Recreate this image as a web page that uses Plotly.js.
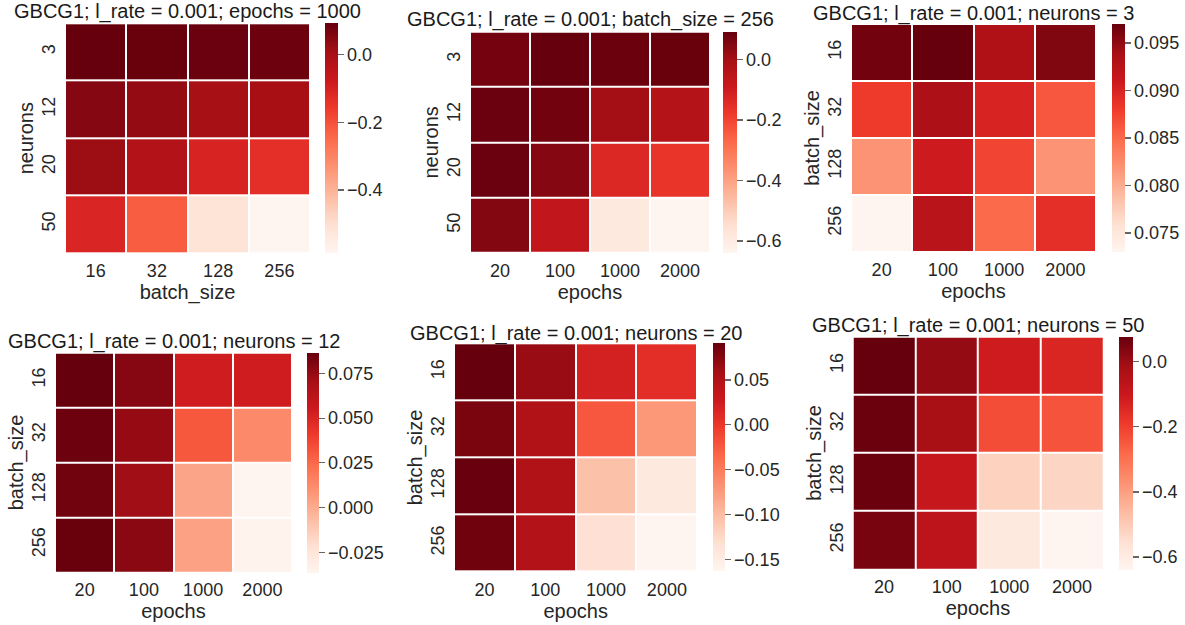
<!DOCTYPE html>
<html>
<head>
<meta charset="utf-8">
<script src="https://cdn.plot.ly/plotly-3.0.1.min.js"></script>
<style>html,body{margin:0;padding:0;background:#fff;}#chart{width:1185px;height:625px;}</style>
</head>
<body>
<div id="chart"></div>
<script>
// ---- data ----
const neurons = ["3", "12", "20", "50"];
const batchSizes = ["16", "32", "128", "256"];
const epochs = ["20", "100", "1000", "2000"];

const titles = [
  "GBCG1; l_rate = 0.001; epochs = 1000",
  "GBCG1; l_rate = 0.001; batch_size = 256",
  "GBCG1; l_rate = 0.001; neurons = 3",
  "GBCG1; l_rate = 0.001; neurons = 12",
  "GBCG1; l_rate = 0.001; neurons = 20",
  "GBCG1; l_rate = 0.001; neurons = 50"
];

// epochs = 1000 : rows neurons, cols batch_size
const zEpochs1000 = [
  [0.0932, 0.0900, 0.0874, 0.0850],
  [0.054, 0.031, 0.003, 0.004],
  [0.020, -0.023, -0.105, -0.133],
  [-0.109, -0.224, -0.517, -0.587]
];
// batch_size = 256 : rows neurons, cols epochs
const zBatch256 = [
  [0.073, 0.0925, 0.085, 0.089],
  [0.086, 0.078, 0.004, -0.035],
  [0.086, 0.048, -0.133, -0.163],
  [0.052, -0.066, -0.587, -0.639]
];
// neurons = 3 : rows batch_size, cols epochs
const zNeurons3 = [
  [0.0965, 0.0970, 0.0932, 0.0958],
  [0.0881, 0.0934, 0.0900, 0.0862],
  [0.0819, 0.0908, 0.0874, 0.0819],
  [0.0730, 0.0925, 0.0850, 0.0890]
];
// neurons = 12
const zNeurons12 = [
  [0.0866, 0.079, 0.054, 0.054],
  [0.085, 0.075, 0.031, 0.013],
  [0.084, 0.072, 0.003, -0.0364],
  [0.086, 0.078, 0.004, -0.035]
];
// neurons = 20
const zNeurons20 = [
  [0.0908, 0.065, 0.020, 0.007],
  [0.081, 0.050, -0.023, -0.072],
  [0.090, 0.050, -0.105, -0.145],
  [0.086, 0.048, -0.133, -0.163]
];
// neurons = 50
const zNeurons50 = [
  [0.077, 0.012, -0.109, -0.138],
  [0.070, -0.023, -0.224, -0.238],
  [0.070, -0.088, -0.517, -0.524],
  [0.052, -0.066, -0.587, -0.639]
];

const cbTicks1 = [0.0, -0.2, -0.4];
const cbTicks2 = [0.0, -0.2, -0.4, -0.6];
const cbTicks3 = [0.075, 0.080, 0.085, 0.090, 0.095];
const cbTicks4 = [-0.025, 0.000, 0.025, 0.050, 0.075];
const cbTicks5 = [-0.15, -0.10, -0.05, 0.00, 0.05];
const cbTicks6 = [-0.6, -0.4, -0.2, 0.0];

// ---- assembly ----
const W = 1185, H = 625;
const FONT = "'Liberation Sans', Arial, sans-serif";
const TXT = "#262626";
const reds = [
  [0.0, "#fff5f0"], [0.125, "#fee0d2"], [0.25, "#fcbba1"], [0.375, "#fc9272"],
  [0.5, "#fb6a4a"], [0.625, "#ef3b2c"], [0.75, "#cb181d"], [0.875, "#a50f15"], [1.0, "#67000d"]
];

const panels = [
  {z: zEpochs1000, x: batchSizes, y: neurons, xt: "batch_size", yt: "neurons", ticks: cbTicks1, fmt: ".1f",
   box: [65, 310, 23.3, 253], cb: [325, 338], tgap: 11.6},
  {z: zBatch256, x: epochs, y: neurons, xt: "epochs", yt: "neurons", ticks: cbTicks2, fmt: ".1f",
   box: [470, 710, 31.7, 253], cb: [723, 737], tgap: 12.5},
  {z: zNeurons3, x: epochs, y: batchSizes, xt: "epochs", yt: "batch_size", ticks: cbTicks3, fmt: ".3f",
   box: [851, 1096, 24, 252], cb: [1112, 1125], tgap: 10},
  {z: zNeurons12, x: epochs, y: batchSizes, xt: "epochs", yt: "batch_size", ticks: cbTicks4, fmt: ".3f",
   box: [55, 292, 352.7, 572.3], cb: [307, 319], tgap: 11},
  {z: zNeurons20, x: epochs, y: batchSizes, xt: "epochs", yt: "batch_size", ticks: cbTicks5, fmt: ".2f",
   box: [454, 697.3, 343.3, 571.7], cb: [713.3, 725], tgap: 10},
  {z: zNeurons50, x: epochs, y: batchSizes, xt: "epochs", yt: "batch_size", ticks: cbTicks6, fmt: ".1f",
   box: [852.7, 1103.3, 336.7, 569.3], cb: [1119.3, 1133.3], tgap: 11.7}
];

const data = [];
const layout = {
  width: W, height: H,
  margin: {l: 0, r: 0, t: 0, b: 0},
  paper_bgcolor: "#fff", plot_bgcolor: "#fff",
  font: {family: FONT, color: TXT, size: 18},
  showlegend: false,
  annotations: []
};

panels.forEach((p, i) => {
  const n = i === 0 ? "" : String(i + 1);
  const [x0, x1, y0, y1] = p.box;
  data.push({
    type: "heatmap",
    z: p.z, x: p.x, y: p.y,
    xaxis: "x" + n, yaxis: "y" + n,
    colorscale: reds,
    xgap: 2, ygap: 2,
    colorbar: {
      x: p.cb[0] / W, xanchor: "left", xpad: 0,
      y: 1 - y0 / H, yanchor: "top", ypad: 0,
      len: (y1 - y0) / H, lenmode: "fraction",
      thickness: p.cb[1] - p.cb[0],
      outlinewidth: 0,
      tickmode: "array", tickvals: p.ticks, tickformat: p.fmt,
      ticks: "outside", ticklen: 6, tickwidth: 1.2, tickcolor: "#666",
      tickfont: {family: FONT, size: 18, color: TXT}
    }
  });
  layout["xaxis" + n] = {
    domain: [x0 / W, x1 / W], anchor: "y" + n, type: "category",
    showgrid: false, zeroline: false, showline: false, ticks: "",
    ticklabelstandoff: 5,
    tickfont: {family: FONT, size: 18, color: TXT},
    title: {text: p.xt, font: {family: FONT, size: 20, color: TXT}, standoff: 1}
  };
  layout["yaxis" + n] = {
    domain: [1 - y1 / H, 1 - y0 / H], anchor: "x" + n, type: "category",
    autorange: "reversed",
    showgrid: false, zeroline: false, showline: false, ticks: "",
    tickangle: -90, ticklabelstandoff: 5,
    tickfont: {family: FONT, size: 18, color: TXT},
    title: {text: p.yt, font: {family: FONT, size: 20, color: TXT}, standoff: 0}
  };
  layout.annotations.push({
    text: titles[i], showarrow: false,
    xref: "x" + n + " domain", yref: "y" + n + " domain",
    x: 0.5, y: 1, xanchor: "center", yanchor: "middle", yshift: p.tgap,
    font: {family: FONT, size: 20, color: "#1a1a1a"}
  });
});

Plotly.newPlot("chart", data, layout, {staticPlot: true, displayModeBar: false});
</script>
</body>
</html>
